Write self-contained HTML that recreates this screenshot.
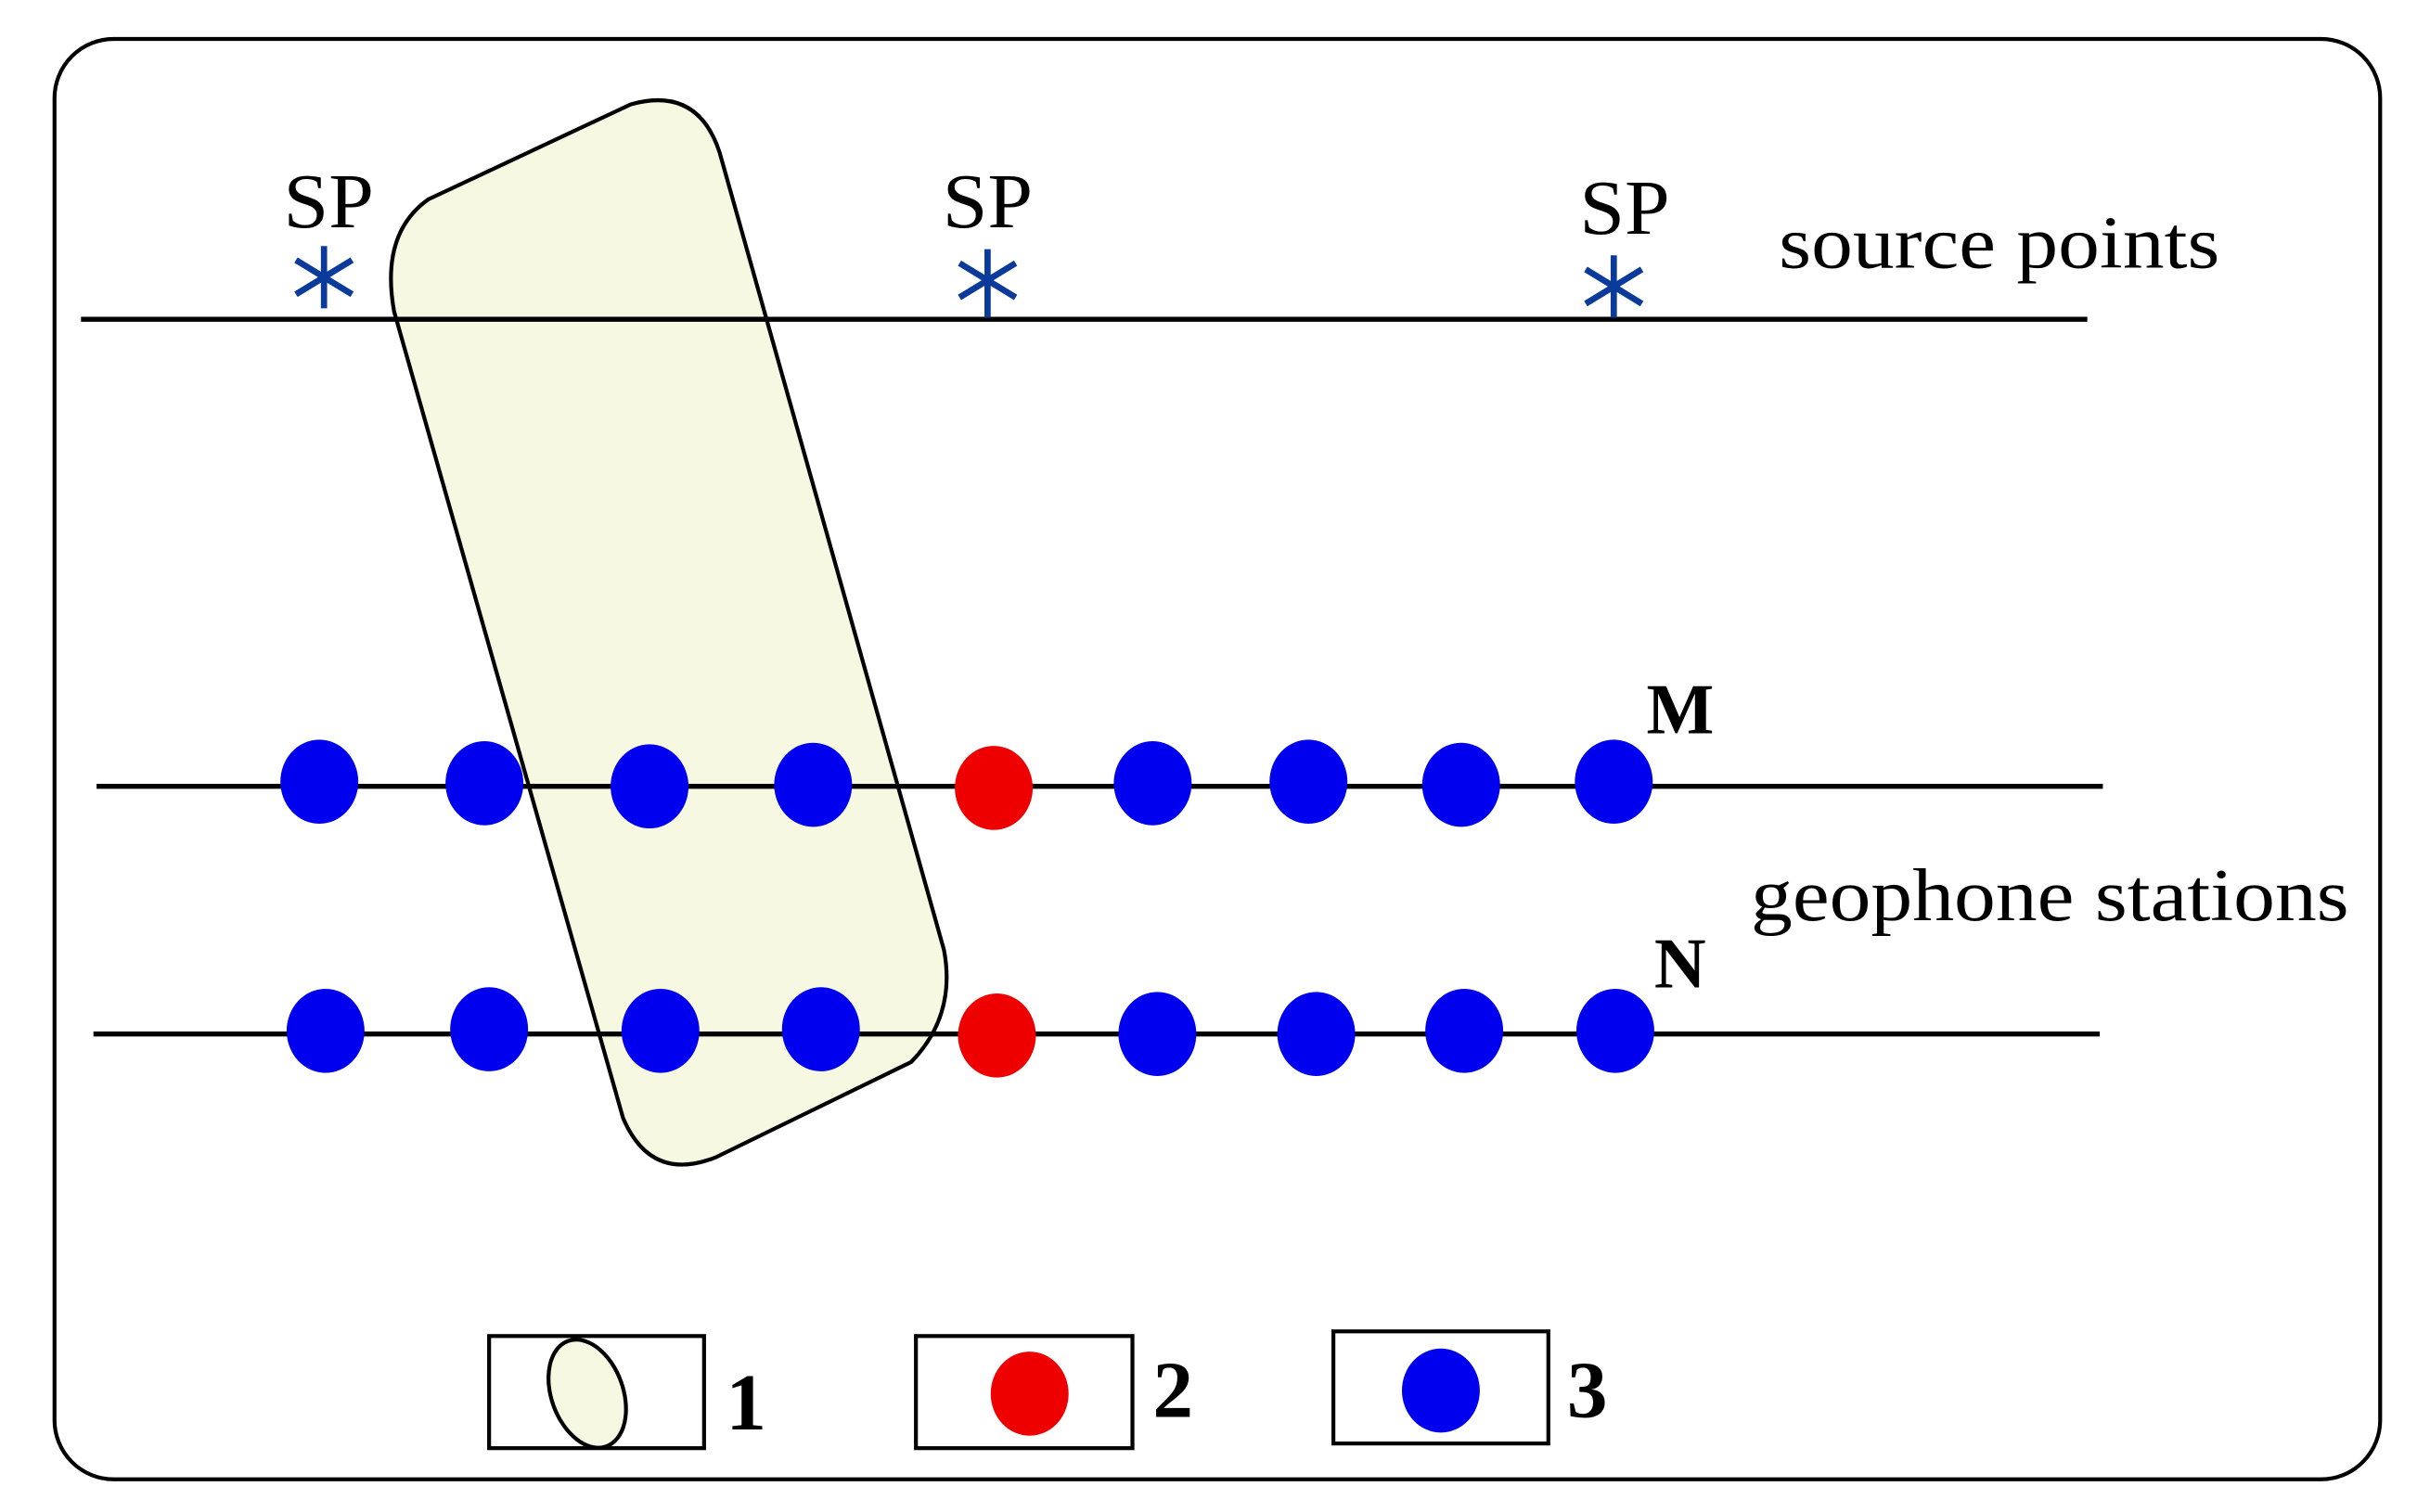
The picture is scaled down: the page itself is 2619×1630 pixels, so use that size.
<!DOCTYPE html>
<html><head><style>html,body{margin:0;padding:0;background:#fff}svg{display:block}</style></head>
<body>
<svg width="2619" height="1630" viewBox="0 0 1560 971" preserveAspectRatio="none" xmlns="http://www.w3.org/2000/svg">
<rect x="35" y="25" width="1493" height="925" rx="38" fill="#fff" stroke="#000" stroke-width="2.5"/>
<path d="M275,128 L405,67 Q448,55 462,98 L606,610 Q614,652 585,682 L460,743 Q418,760 400,718 L253,200 Q244,150 275,128 Z" fill="#f6f8e2" stroke="#000" stroke-width="2.5"/>
<g stroke="#000" stroke-width="3.2">
<line x1="52" y1="205" x2="1340" y2="205"/>
<line x1="62" y1="505" x2="1350" y2="505"/>
<line x1="60" y1="664" x2="1348" y2="664"/>
</g>
<g stroke="#0a3a9a" stroke-width="4" fill="none">
<g transform="translate(208,178)"><line x1="0" y1="-20" x2="0" y2="20"/><line x1="-18" y1="-11" x2="18" y2="11"/><line x1="-18" y1="11" x2="18" y2="-11"/></g>
<g transform="translate(634,180)"><line x1="0" y1="-20" x2="0" y2="24"/><line x1="-18" y1="-11" x2="18" y2="11"/><line x1="-18" y1="11" x2="18" y2="-11"/></g>
<g transform="translate(1036,184)"><line x1="0" y1="-20" x2="0" y2="20"/><line x1="-18" y1="-11" x2="18" y2="11"/><line x1="-18" y1="11" x2="18" y2="-11"/></g>
</g>
<g font-family="Liberation Serif, serif" font-size="50" fill="#000">
<text x="182" y="146" textLength="58" lengthAdjust="spacingAndGlyphs">SP</text>
<text x="605" y="146" textLength="58" lengthAdjust="spacingAndGlyphs">SP</text>
<text x="1014" y="150" textLength="58" lengthAdjust="spacingAndGlyphs">SP</text>
<text x="1142" y="172" font-size="48" textLength="283" lengthAdjust="spacingAndGlyphs">source points</text>
<text x="1124" y="591" font-size="48" textLength="384" lengthAdjust="spacingAndGlyphs">geophone stations</text>
<text x="1057" y="471" font-weight="bold" font-size="46">M</text>
<text x="1062" y="634" font-weight="bold" font-size="46">N</text>
<text x="466" y="918" font-weight="bold" font-size="52">1</text>
<text x="740" y="910" font-weight="bold" font-size="52">2</text>
<text x="1006" y="910" font-weight="bold" font-size="52">3</text>
</g>
<g fill="#0000ee">
<ellipse cx="205" cy="502" rx="25" ry="27"/><ellipse cx="311" cy="503" rx="25" ry="27"/><ellipse cx="417" cy="505" rx="25" ry="27"/><ellipse cx="522" cy="504" rx="25" ry="27"/>
<ellipse cx="740" cy="503" rx="25" ry="27"/><ellipse cx="840" cy="502" rx="25" ry="27"/><ellipse cx="938" cy="504" rx="25" ry="27"/><ellipse cx="1036" cy="502" rx="25" ry="27"/>
<ellipse cx="209" cy="662" rx="25" ry="27"/><ellipse cx="314" cy="661" rx="25" ry="27"/><ellipse cx="424" cy="662" rx="25" ry="27"/><ellipse cx="527" cy="661" rx="25" ry="27"/>
<ellipse cx="743" cy="664" rx="25" ry="27"/><ellipse cx="845" cy="664" rx="25" ry="27"/><ellipse cx="940" cy="662" rx="25" ry="27"/><ellipse cx="1037" cy="662" rx="25" ry="27"/>
<ellipse cx="925" cy="893" rx="25" ry="27"/>
</g>
<g fill="#ee0000">
<ellipse cx="638" cy="506" rx="25" ry="27"/><ellipse cx="640" cy="665" rx="25" ry="27"/><ellipse cx="661" cy="895" rx="25" ry="27"/>
</g>
<g fill="none" stroke="#000" stroke-width="2.5">
<rect x="314" y="858" width="138" height="72"/>
<rect x="588" y="858" width="139" height="72"/>
<rect x="856" y="855" width="138" height="72"/>
</g>
<ellipse cx="377" cy="895" rx="23" ry="36" transform="rotate(-20 377 895)" fill="#f6f8e2" stroke="#000" stroke-width="2.5"/>
</svg>
</body></html>
